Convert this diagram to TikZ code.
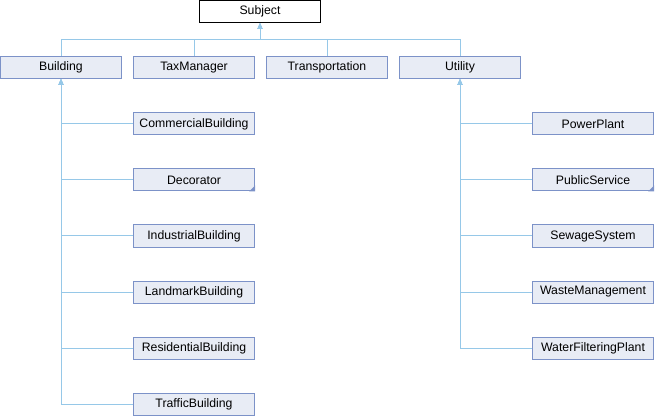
\documentclass[tikz,border=0pt]{standalone}
\usepackage{fontspec}
\setmainfont{Liberation Sans}
\usetikzlibrary{arrows.meta}
\definecolor{boxfill}{RGB}{232,236,245}
\definecolor{boxline}{RGB}{124,146,200}
\definecolor{edgec}{RGB}{150,200,232}

\begin{document}
\begin{tikzpicture}[x=0.75pt,y=-0.75pt]
\tikzstyle{cls}=[draw=boxline,fill=boxfill,line width=0.75pt,minimum width=91pt,minimum height=16.5pt,inner sep=0pt,font=\fontsize{9.2}{10}\selectfont];
\tikzstyle{root}=[cls,draw=black,fill=white];
\tikzstyle{edge}=[draw=edgec,line width=0.75pt];
\tikzstyle{inh}=[edge,-{Triangle[width=3.75pt,length=4.5pt,fill=edgec]}];

\useasboundingbox (0,0) rectangle (655,416);

\node[root] (sub) at (260,11.5) {Subject};

\node[cls] (bld) at (61,67.5) {Building};
\node[cls] (tax) at (194,67.5) {TaxManager};
\node[cls] (trn) at (327,67.5) {Transportation};
\node[cls] (utl) at (460,67.5) {Utility};

% left branch
\node[cls] (com) at (194,124) {CommercialBuilding};
\node[cls] (dec) at (194,180) {Decorator};
\node[cls] (ind) at (194,236) {IndustrialBuilding};
\node[cls] (lmk) at (194,292) {LandmarkBuilding};
\node[cls] (res) at (194,348) {ResidentialBuilding};
\node[cls] (trf) at (194,404) {TrafficBuilding};

% right branch
\node[cls] (pwr) at (593,124) {PowerPlant};
\node[cls] (pub) at (593,180) {PublicService};
\node[cls] (sew) at (593,236) {SewageSystem};
\node[cls] (wst) at (593,292) {WasteManagement};
\node[cls] (wfp) at (593,348) {WaterFilteringPlant};

\coordinate (bus) at (260,40);
\foreach \c in {bld,tax,trn,utl}
  \draw[inh] (\c.north) |- (bus) -- (sub.south);

\foreach \c in {com,dec,ind,lmk,res,trf}
  \draw[inh] (\c.west) -| (bld.south);
\foreach \c in {pwr,pub,sew,wst,wfp}
  \draw[inh] (\c.west) -| (utl.south);

\foreach \c in {dec,pub}
  \fill[boxline] (\c.south east) -- ++(-4.5pt,0) -- ++(4.5pt,4.5pt) -- cycle;

\end{tikzpicture}
\end{document}
